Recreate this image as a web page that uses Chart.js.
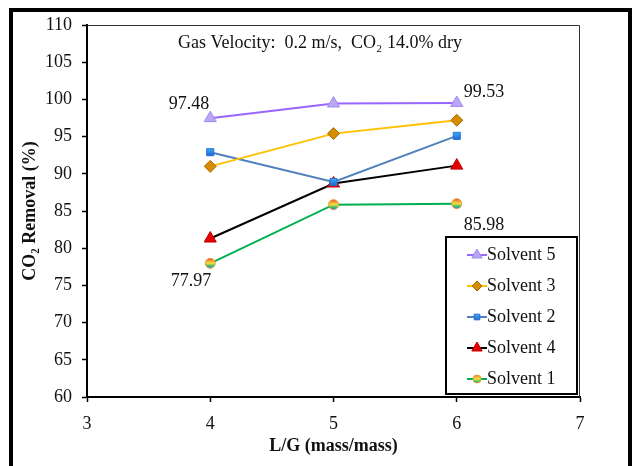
<!DOCTYPE html>
<html>
<head>
<meta charset="utf-8">
<script src="https://cdn.jsdelivr.net/npm/chart.js@4.4.1/dist/chart.umd.min.js"></script>
<style>
  html, body { margin: 0; padding: 0; background: #fff; }
  #wrap { width: 637px; height: 466px; position: relative; }
</style>
</head>
<body>
<div id="wrap"><canvas id="co2Chart"></canvas></div>
<script>
// L/G ratio (mass/mass)
const lgRatio = [4, 5, 6];

// CO2 removal (%) per solvent
const solvent5 = [97.48, 99.45, 99.53];
const solvent3 = [91.0, 95.4, 97.2];
const solvent2 = [92.9, 88.9, 95.1];
const solvent4 = [81.3, 88.7, 91.1];
const solvent1 = [77.97, 85.85, 85.98];

const seriesNames = ['Solvent 5', 'Solvent 3', 'Solvent 2', 'Solvent 4', 'Solvent 1'];

// labels written next to some points: [series index, point index, text]
const pointNotes = [
  [0, 0, '97.48'],
  [0, 2, '99.53'],
  [4, 0, '77.97'],
  [4, 2, '85.98']
];

const subtitleText = 'Gas Velocity:  0.2 m/s,  CO\u2082 14.0% dry';
const serif = "'Liberation Serif', 'Times New Roman', serif";

const blueStops = ['#3FC0F0', '#2A8AE8', '#1E50C8'];
const rainbowStops = ['#F04040', '#F5A030', '#F0E040', '#40C060', '#3080E0'];

// vertical gradient for a marker, built from the point's pixel y
function markerGradient(ctx, stops) {
  const chart = ctx.chart;
  const ys = chart.scales && chart.scales.y;
  if (ctx.type !== 'data' || !ys || !ctx.parsed) return stops[1];
  const y = ys.getPixelForValue(ctx.parsed.y);
  if (!isFinite(y)) return stops[1];
  const g = chart.ctx.createLinearGradient(0, y - 5, 0, y + 5);
  stops.forEach((c, i) => g.addColorStop(i / (stops.length - 1), c));
  return g;
}

const toPoints = arr => arr.map((v, i) => ({ x: lgRatio[i], y: v }));

const datasets = [
  { label: seriesNames[0], data: toPoints(solvent5), borderColor: '#9966FF', pointStyle: 'triangle',
    pointBackgroundColor: '#B9A6F5', pointBorderColor: '#A08AF0', pointRadius: 7 },
  { label: seriesNames[1], data: toPoints(solvent3), borderColor: '#FFC000', pointStyle: 'rectRot',
    pointBackgroundColor: '#D48C00', pointBorderColor: '#A86E00', pointRadius: 6 },
  { label: seriesNames[2], data: toPoints(solvent2), borderColor: '#4F81BD', pointStyle: 'rect',
    pointBackgroundColor: ctx => markerGradient(ctx, blueStops),
    pointBorderColor: '#2A70D0', pointRadius: 5 },
  { label: seriesNames[3], data: toPoints(solvent4), borderColor: '#000000', pointStyle: 'triangle',
    pointBackgroundColor: '#E60000', pointBorderColor: '#C00000', pointRadius: 7 },
  { label: seriesNames[4], data: toPoints(solvent1), borderColor: '#00B050', pointStyle: 'circle',
    pointBackgroundColor: ctx => markerGradient(ctx, rainbowStops),
    pointBorderColor: '#E0A040', pointRadius: 5 }
].map(d => Object.assign({ borderWidth: 2, pointBorderWidth: 1, tension: 0, fill: false }, d));

// outer frame, plot box, note text, subtitle and the legend box
const decorPlugin = {
  id: 'decor',
  afterDraw(chart) {
    const ctx = chart.ctx;
    const a = chart.chartArea;
    ctx.save();

    ctx.strokeStyle = '#000';
    ctx.lineWidth = 4;
    ctx.strokeRect(11, 10, 619, 480);

    ctx.strokeStyle = '#333';
    ctx.lineWidth = 1;
    ctx.beginPath();
    ctx.moveTo(a.left, a.top + 0.5);
    ctx.lineTo(a.right - 0.5, a.top + 0.5);
    ctx.lineTo(a.right - 0.5, a.bottom);
    ctx.stroke();

    ctx.fillStyle = '#111';
    ctx.font = '18px ' + serif;
    ctx.textAlign = 'center';
    ctx.textBaseline = 'middle';
    ctx.fillText(subtitleText, 320, 43);

    // point notes
    pointNotes.forEach(([di, pi, txt]) => {
      const el = chart.getDatasetMeta(di).data[pi];
      if (di === 0 && pi === 0) { ctx.textAlign = 'right'; ctx.fillText(txt, el.x - 1, el.y - 14); }
      else if (di === 0) { ctx.textAlign = 'left'; ctx.fillText(txt, el.x + 7, el.y - 11); }
      else if (pi === 0) { ctx.textAlign = 'right'; ctx.fillText(txt, el.x + 1, el.y + 18); }
      else { ctx.textAlign = 'left'; ctx.fillText(txt, el.x + 7, el.y + 22); }
    });

    // legend box
    const lx = 446, ly = 237, lw = 131, lh = 157;
    ctx.fillStyle = '#fff';
    ctx.fillRect(lx, ly, lw, lh);
    ctx.strokeStyle = '#000';
    ctx.lineWidth = 2;
    ctx.strokeRect(lx, ly, lw, lh);
    ctx.textAlign = 'left';
    chart.data.datasets.forEach((ds, i) => {
      const cy = ly + 18 + i * 31;
      ctx.strokeStyle = ds.borderColor;
      ctx.lineWidth = 2;
      ctx.beginPath();
      ctx.moveTo(lx + 21, cy);
      ctx.lineTo(lx + 41, cy);
      ctx.stroke();
      let fill = ds.pointBackgroundColor;
      if (typeof fill === 'function') {
        const stops = i === 2 ? blueStops : rainbowStops;
        const g = ctx.createLinearGradient(0, cy - 5, 0, cy + 5);
        stops.forEach((c, k) => g.addColorStop(k / (stops.length - 1), c));
        fill = g;
      }
      ctx.fillStyle = fill;
      ctx.strokeStyle = ds.pointBorderColor;
      ctx.lineWidth = 1;
      Chart.helpers.drawPoint(ctx, { pointStyle: ds.pointStyle, radius: ds.pointRadius - 1, rotation: 0, borderWidth: 1 },
        lx + 31, cy);
      ctx.fillStyle = '#111';
      ctx.fillText(ds.label, lx + 41, cy);
    });

    ctx.restore();
  }
};

new Chart(document.getElementById('co2Chart'), {
  type: 'line',
  data: { datasets },
  plugins: [decorPlugin],
  options: {
    responsive: true,
    maintainAspectRatio: false,
    animation: false,
    layout: { padding: { left: 0, top: 25, right: 57, bottom: 0 } },
    plugins: { legend: { display: false }, tooltip: { enabled: false } },
    scales: {
      x: {
        type: 'linear', min: 3, max: 7,
        ticks: { stepSize: 1, color: '#111', padding: 11, font: { family: serif, size: 18 } },
        grid: { drawOnChartArea: false, tickLength: 5, color: '#000', tickWidth: 1.5 },
        border: { color: '#000', width: 2 },
        title: { display: true, text: 'L/G (mass/mass)', color: '#111',
          font: { family: serif, size: 18, weight: 'bold' }, padding: { top: 0, bottom: 9 } },
        afterFit: s => { s.height = 69; }
      },
      y: {
        min: 60, max: 110,
        ticks: { stepSize: 5, color: '#111', padding: 10, font: { family: serif, size: 18 } },
        grid: { drawOnChartArea: false, tickLength: 5, color: '#000', tickWidth: 1.5 },
        border: { color: '#000', width: 2 },
        title: { display: true, text: 'CO\u2082 Removal (%)', color: '#111',
          font: { family: serif, size: 18, weight: 'bold' }, padding: { top: 20, bottom: 0 } },
        afterFit: s => { s.width = 87; }
      }
    }
  }
});
</script>
</body>
</html>
